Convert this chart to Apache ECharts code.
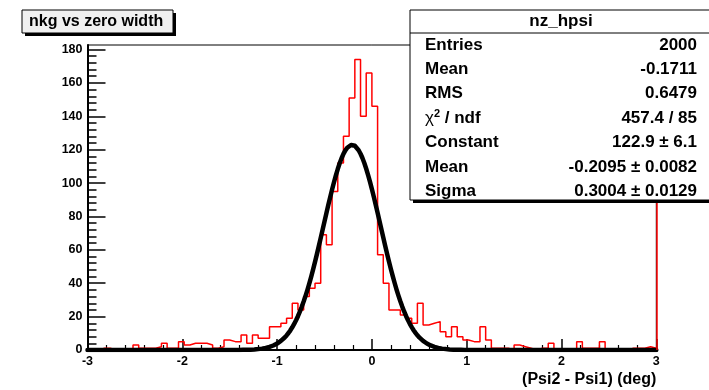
<!DOCTYPE html>
<html>
<head>
<meta charset="utf-8">
<script src="https://cdn.jsdelivr.net/npm/echarts@6/dist/echarts.min.js"></script>
<style>
  html, body { margin: 0; padding: 0; background: #ffffff; }
  #chart { width: 709px; height: 390px; }
</style>
</head>
<body>
<div id="chart"></div>
<script>
// ---- histogram: nz_hpsi, 100 bins on [-3, 3] ----
const FONT = '"Liberation Sans", Arial, Helvetica, sans-serif';
const histTitle = 'nkg vs zero width';
const statsName = 'nz_hpsi';
const xTitle = '(Psi2 - Psi1) (deg)';
const xRange = [-3, 3];
const xTicks = [-3, -2, -1, 0, 1, 2, 3];
const nBins = 100;
const counts = [
  0, 0, 1, 1, 0, 0, 0, 0, 3, 1,
  1, 1, 2, 4, 1, 1, 5, 3, 4, 4,
  4, 3, 1, 2, 6, 5, 5, 9, 4, 9,
  7, 7, 14, 14, 16, 19, 28, 24, 32, 37,
  40, 69, 63, 95, 112, 128, 151, 174, 140, 166,
  146, 57, 40, 24, 24, 21, 19, 16, 28, 15,
  16, 17, 11, 8, 14, 8, 6, 5, 5, 14,
  6, 1, 1, 1, 0, 3, 2, 1, 0, 1,
  1, 4, 0, 0, 0, 0, 5, 1, 1, 1,
  5, 0, 0, 0, 0, 1, 1, 1, 2, 1
];
const yMax = 182.7;
const yMajorTicks = [0, 20, 40, 60, 80, 100, 120, 140, 160, 180];
const yMinorPerMajor = 5;

// gaussian fit result
const fitConstant = 122.9;
const fitMean = -0.2095;
const fitSigma = 0.3004;

// statistics box rows
const statsLabels = ['Entries', 'Mean', 'RMS', '{chi|χ}{sup|2}{n| / ndf}', 'Constant', 'Mean', 'Sigma'];
const statsValues = ['2000', '-0.1711', '0.6479', '457.4 / 85', '122.9 ± 6.1', '-0.2095 ± 0.0082', '0.3004 ± 0.0129'];

// ---- derived series ----
const binWidth = (xRange[1] - xRange[0]) / nBins;
const histData = [[xRange[0], 0]];
counts.forEach((c, k) => histData.push([xRange[0] + k * binWidth, c]));
histData.push([xRange[1], counts[nBins - 1]]);
histData.push([xRange[1], 0]);

const fitData = [];
const fitSteps = 300;
for (let i = 0; i <= fitSteps; i++) {
  const x = xRange[0] + (xRange[1] - xRange[0]) * i / fitSteps;
  const z = (x - fitMean) / fitSigma;
  fitData.push([x, fitConstant * Math.exp(-0.5 * z * z)]);
}

const yMinorTicks = [];
for (let i = 0; i < yMajorTicks.length - 1; i++) {
  const step = (yMajorTicks[i + 1] - yMajorTicks[i]) / yMinorPerMajor;
  for (let j = 1; j < yMinorPerMajor; j++) yMinorTicks.push(yMajorTicks[i] + j * step);
}

// ---- text boxes ----
const STAT_FONT = 'bold 17px ' + FONT;
const statsRowTop = 45, statsRowStep = 24.4;
const statsTexts = [];
statsLabels.forEach((lab, i) => {
  statsTexts.push({
    type: 'text', x: 425, y: statsRowTop + i * statsRowStep, z: 102,
    style: {
      text: lab, font: STAT_FONT, fill: '#000', verticalAlign: 'middle',
      rich: {
        chi: { font: '17px ' + FONT, fill: '#000' },
        sup: { font: 'bold 11px ' + FONT, fill: '#000', verticalAlign: 'top', padding: [0, 0, 9, 0] },
        n: { font: STAT_FONT, fill: '#000' }
      }
    }
  });
  statsTexts.push({
    type: 'text', x: 697, y: statsRowTop + i * statsRowStep, z: 102,
    style: { text: statsValues[i], font: STAT_FONT, fill: '#000', align: 'right', verticalAlign: 'middle' }
  });
});

const chart = echarts.init(document.getElementById('chart'), null, { renderer: 'canvas' });
chart.setOption({
  animation: false,
  backgroundColor: '#ffffff',
  grid: {
    left: 87.5, right: 52.7, top: 45, bottom: 40,
    show: true, borderColor: '#000', borderWidth: 1, backgroundColor: 'transparent'
  },
  xAxis: {
    type: 'value', min: xRange[0], max: xRange[1], interval: 1,
    name: xTitle, nameLocation: 'end', nameGap: 0,
    nameTextStyle: { fontFamily: FONT, fontWeight: 'bold', fontSize: 16, color: '#000',
      align: 'right', verticalAlign: 'top', padding: [22, 0, 0, 0] },
    axisLine: { show: true, onZero: false, lineStyle: { color: '#000', width: 2 } },
    axisTick: { show: true, inside: true, length: 11, lineStyle: { color: '#000', width: 1.5 } },
    minorTick: { show: true, splitNumber: 5, length: 5, lineStyle: { color: '#000', width: 1.2 } },
    axisLabel: { show: true, margin: 5, fontFamily: FONT, fontWeight: 'bold', fontSize: 12.5, color: '#000',
      customValues: xTicks },
    splitLine: { show: false }
  },
  yAxis: [
    {
      type: 'value', min: 0, max: yMax, position: 'left',
      axisLine: { show: true, onZero: false, lineStyle: { color: '#000', width: 2 } },
      axisTick: { show: true, inside: true, length: 18, lineStyle: { color: '#000', width: 1.5 }, customValues: yMajorTicks },
      axisLabel: { show: true, margin: 5, fontFamily: FONT, fontWeight: 'bold', fontSize: 12.5, color: '#000', customValues: yMajorTicks },
      splitLine: { show: false }
    },
    {
      type: 'value', min: 0, max: yMax, position: 'left', offset: 0,
      axisLine: { show: false, onZero: false },
      axisTick: { show: true, inside: true, length: 9, lineStyle: { color: '#000', width: 1.5 }, customValues: yMinorTicks },
      axisLabel: { show: false },
      splitLine: { show: false }
    }
  ],
  series: [
    {
      name: statsName, type: 'line', step: 'end', data: histData,
      symbol: 'none', z: 3,
      lineStyle: { color: '#ff0000', width: 1.5 },
      markLine: {
        silent: true, symbol: ['none', 'none'], label: { show: false },
        lineStyle: { color: '#ff0000', width: 1.5, type: 'solid' },
        data: [{ xAxis: xRange[1] }]
      }
    },
    {
      name: 'gaus', type: 'line', data: fitData, symbol: 'none', z: 4,
      lineStyle: { color: '#000', width: 4.5, join: 'round', cap: 'round' }
    }
  ],
  graphic: [
    // title box with shadow
    { type: 'rect', z: 100, shape: { x: 25, y: 13, width: 151, height: 23 }, style: { fill: '#000' } },
    { type: 'rect', z: 101, shape: { x: 22, y: 10, width: 151, height: 23 }, style: { fill: '#f0f0f0', stroke: '#000', lineWidth: 1 } },
    { type: 'text', z: 102, x: 29, y: 21.5, style: { text: histTitle, font: 'bold 16px ' + FONT, fill: '#000', verticalAlign: 'middle' } },
    // statistics box with shadow
    { type: 'rect', z: 100, shape: { x: 413, y: 13, width: 320, height: 190 }, style: { fill: '#000' } },
    { type: 'rect', z: 101, shape: { x: 410, y: 10, width: 320, height: 190 }, style: { fill: '#ffffff', stroke: '#000', lineWidth: 1 } },
    { type: 'line', z: 102, shape: { x1: 410, y1: 33, x2: 709, y2: 33 }, style: { stroke: '#000', lineWidth: 1 } },
    { type: 'text', z: 102, x: 561, y: 21.5, style: { text: statsName, font: 'bold 17px ' + FONT, fill: '#000', align: 'center', verticalAlign: 'middle' } }
  ].concat(statsTexts)
});
</script>
</body>
</html>
